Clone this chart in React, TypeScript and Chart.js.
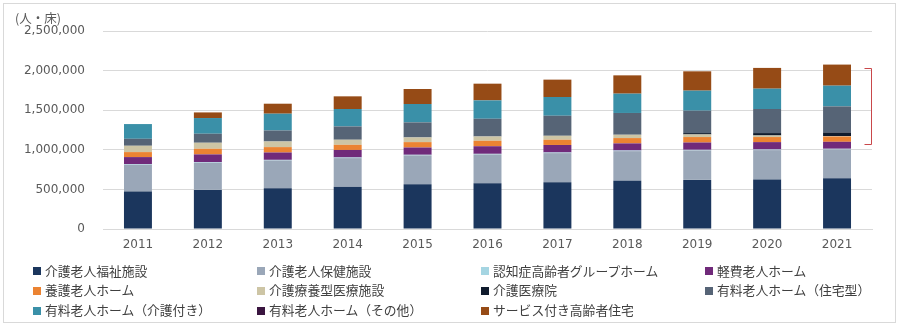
import React, { useEffect, useRef } from 'react';
import { Chart, registerables } from 'chart.js';

Chart.register(...registerables);

// ---- data ----
const years = ['2011', '2012', '2013', '2014', '2015', '2016', '2017', '2018', '2019', '2020', '2021'];

const kaigoFukushi = [472000, 494000, 515000, 535000, 566000, 578000, 591000, 608000, 620000, 624000, 642000];
const kaigoHoken = [339000, 342000, 350000, 360000, 363000, 363000, 367000, 375000, 372000, 372000, 363000];
const groupHome = [8000, 8000, 8000, 8000, 8000, 8000, 8000, 8000, 8000, 8000, 8000];
const keihi = [89000, 98000, 93000, 95000, 92000, 96000, 95000, 90000, 92000, 93000, 88000];
const yogo = [63000, 71000, 68000, 65000, 68000, 69000, 66000, 67000, 69000, 64000, 67000];
const ryoyogata = [80000, 76000, 71000, 64000, 59000, 54000, 50000, 42000, 33000, 20000, 5000];
const iryoin = [0, 0, 0, 0, 0, 0, 0, 0, 17000, 30000, 46000];
const yuryoJutaku = [88000, 114000, 139000, 168000, 190000, 224000, 253000, 275000, 283000, 304000, 329000];
const yuryoKaigo = [186000, 198000, 212000, 220000, 232000, 232000, 237000, 244000, 253000, 257000, 262000];
const yuryoOther = [0, 0, 0, 0, 0, 0, 0, 0, 0, 0, 0];
const sakoju = [0, 71000, 126000, 160000, 190000, 211000, 219000, 231000, 244000, 262000, 266000];

const seriesNames = [
  '介護老人福祉施設',
  '介護老人保健施設',
  '認知症高齢者グループホーム',
  '軽費老人ホーム',
  '養護老人ホーム',
  '介護療養型医療施設',
  '介護医療院',
  '有料老人ホーム（住宅型）',
  '有料老人ホーム（介護付き）',
  '有料老人ホーム（その他）',
  'サービス付き高齢者住宅',
];
const seriesValues = [
  kaigoFukushi, kaigoHoken, groupHome, keihi, yogo, ryoyogata, iryoin,
  yuryoJutaku, yuryoKaigo, yuryoOther, sakoju,
];
const seriesColors = [
  '#1B365D', '#9AA7B8', '#A5D5E2', '#702A7A', '#EB8332', '#CDC5A5',
  '#0F1B2D', '#566476', '#3A90A8', '#3A1540', '#964B16',
];

const yMin = 0;
const yMax = 2500000;
const yStep = 500000;
const yUnitLabel = '(人・床)';

// bracket: spans the series from index 4 (養護老人ホーム) upwards in the last year
const bracketFromSeries = 4;

const NUM_FONT = "'DejaVu Sans', Verdana, sans-serif";
const JP_FONT = "'Noto Sans CJK JP', 'Noto Sans', sans-serif";

const bracketPlugin = {
  id: 'bracket',
  afterDatasetsDraw(chart: any) {
    const { ctx, chartArea, scales } = chart;
    const last = years.length - 1;
    let below = 0;
    for (let i = 0; i < bracketFromSeries; i++) below += seriesValues[i][last];
    let total = 0;
    for (let i = 0; i < seriesValues.length; i++) total += seriesValues[i][last];
    const yTop = Math.round(scales.y.getPixelForValue(total)) + 3;
    const yBot = Math.round(scales.y.getPixelForValue(below)) + 2;
    const x = Math.round(chartArea.right) - 0.5;
    const armLen = 7;
    ctx.save();
    ctx.strokeStyle = '#C9474A';
    ctx.lineWidth = 1;
    ctx.beginPath();
    ctx.moveTo(x - armLen, yTop + 0.5);
    ctx.lineTo(x, yTop + 0.5);
    ctx.lineTo(x, yBot + 0.5);
    ctx.lineTo(x - armLen, yBot + 0.5);
    ctx.stroke();
    ctx.restore();
  },
};

export default function App() {
  const canvasRef = useRef<HTMLCanvasElement | null>(null);

  useEffect(() => {
    document.body.style.margin = '0';
    const canvas = canvasRef.current;
    if (!canvas) return;
    const chart = new Chart(canvas, {
      type: 'bar',
      data: {
        labels: years,
        datasets: seriesNames.map((name, i) => ({
          label: name,
          data: seriesValues[i],
          backgroundColor: seriesColors[i],
          borderWidth: 0,
          barPercentage: 0.4,
          categoryPercentage: 1,
          stack: 's',
        })),
      },
      options: {
        animation: false,
        responsive: false,
        devicePixelRatio: 1,
        layout: { padding: { left: 0, right: 28, top: 31, bottom: 0 } },
        plugins: {
          legend: { display: false },
          tooltip: { enabled: false },
        },
        scales: {
          x: {
            stacked: true,
            grid: { display: false, drawTicks: false },
            border: { display: true, color: '#D9D9D9', width: 1 },
            ticks: {
              color: '#595959',
              font: { family: NUM_FONT, size: 12 },
              padding: 9,
              maxRotation: 0,
            },
            afterFit(scale: any) {
              scale.height = 97;
            },
          },
          y: {
            stacked: true,
            min: yMin,
            max: yMax,
            grid: { color: '#D9D9D9', lineWidth: 1, drawTicks: false },
            border: { display: false },
            ticks: {
              stepSize: yStep,
              color: '#595959',
              font: { family: NUM_FONT, size: 12 },
              padding: 18,
              callback: (v: any) => Number(v).toLocaleString('en-US'),
            },
            afterFit(scale: any) {
              scale.width = 103;
            },
          },
        },
      },
      plugins: [bracketPlugin],
    });
    return () => chart.destroy();
  }, []);

  const colW = 224;
  const legendLeft = 33;
  const rowH = 19.75;
  const firstRowCenter = 271;

  return (
    <div style={{ position: 'fixed', left: 0, top: 0, width: 900, height: 326, background: '#fff', overflow: 'hidden' }}>
      <div style={{ position: 'absolute', left: 3, top: 3, width: 891, height: 318, border: '1px solid #D9D9D9' }} />
      <canvas ref={canvasRef} width={900} height={326} style={{ position: 'absolute', left: 0, top: 0, width: 900, height: 326 }} />
      <div style={{ position: 'absolute', left: 15, top: 11, font: `12.5px ${JP_FONT}`, color: '#595959', lineHeight: '14px', whiteSpace: 'nowrap' }}>
        {yUnitLabel}
      </div>
      {seriesNames.map((name, i) => {
        const col = i % 4;
        const row = Math.floor(i / 4);
        return (
          <div
            key={name}
            style={{
              position: 'absolute',
              left: legendLeft + col * colW,
              top: firstRowCenter + row * rowH - rowH / 2,
              height: rowH,
              display: 'flex',
              alignItems: 'center',
              whiteSpace: 'nowrap',
            }}
          >
            <span style={{ display: 'inline-block', width: 8, height: 8, background: seriesColors[i], marginRight: 4 }} />
            <span style={{ font: `12.8px ${JP_FONT}`, color: '#404040', lineHeight: 1 }}>{name}</span>
          </div>
        );
      })}
    </div>
  );
}
